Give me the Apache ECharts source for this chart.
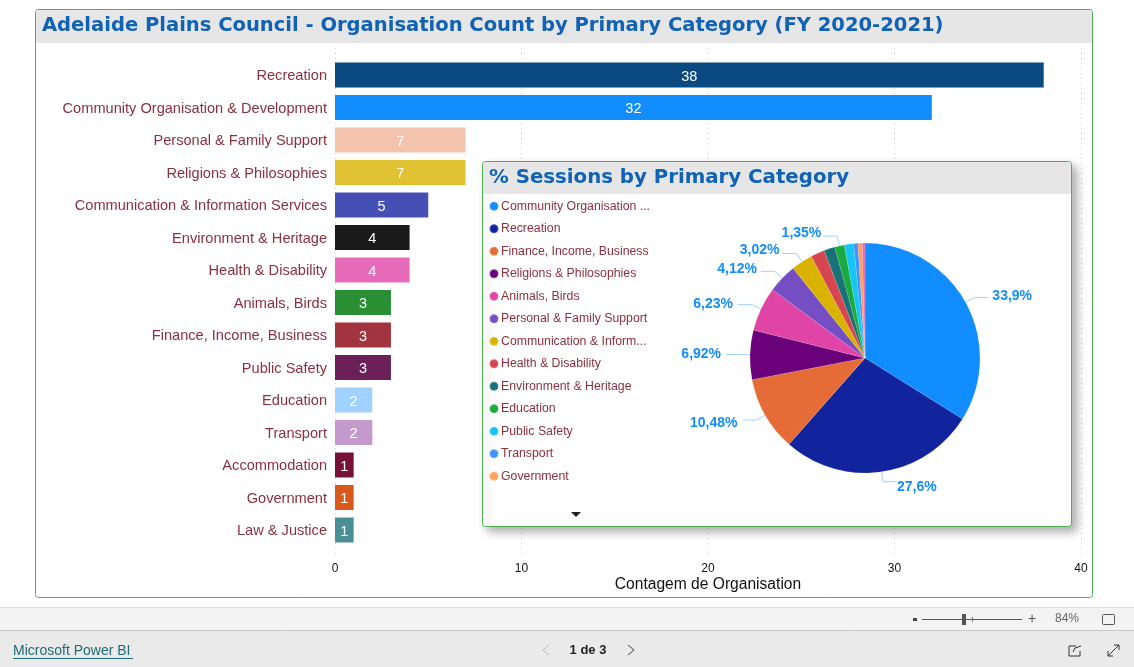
<!DOCTYPE html>
<html><head><meta charset="utf-8">
<style>html,body{margin:0;padding:0;background:#fff}#c{width:1134px;height:667px}</style>
<script src="https://cdn.jsdelivr.net/npm/echarts@6/dist/echarts.min.js"></script>
</head><body><div id="c"></div>
<script>
const mainTitle = 'Adelaide Plains Council - Organisation Count by Primary Category (FY 2020-2021)';
const pieTitle = '% Sessions by Primary Category';
const xAxisName = 'Contagem de Organisation';

const barCategories = ['Recreation','Community Organisation & Development','Personal & Family Support','Religions & Philosophies','Communication & Information Services','Environment & Heritage','Health & Disability','Animals, Birds','Finance, Income, Business','Public Safety','Education','Transport','Accommodation','Government','Law & Justice'];
const barValues = [38,32,7,7,5,4,4,3,3,3,2,2,1,1,1];
const barColors = ['#0A4A80','#118DFF','#F3C3AE','#E1C233','#4550B5','#1A1A1A','#E66CB9','#2A8F33','#A23440','#6B2158','#A0D1FF','#C49ACD','#751235','#D9591C','#4A8E96'];

const pieCategories = ['Community Organisation & Development','Recreation','Finance, Income, Business','Religions & Philosophies','Animals, Birds','Personal & Family Support','Communication & Information Services','Health & Disability','Environment & Heritage','Education','Public Safety','Transport','Government','Law & Justice'];
const pieValues = [33.9,27.6,10.48,6.92,6.23,4.12,3.02,1.95,1.55,1.35,1.3,0.6,0.6,0.38];
const pieColors = ['#118DFF','#12239E','#E66C37','#6B007B','#E044A7','#744EC2','#D9B300','#D64550','#197278','#1AAB40','#15C6F4','#4092FF','#FFA058','#E66CB9'];
const pieLabels = ['33,9%','27,6%','10,48%','6,92%','6,23%','4,12%','3,02%','','','1,35%','','','',''];
const pieLabelNudgeX = [-1,-5,0,0,0,1,2,0,0,3,0,0,0,0];
const pieLabelNudgeY = [-1,5,3,0,-1,-2,-3,0,0,-3,0,0,0,0];
const legendNames = pieCategories.slice(0,13);
const legendLabels = ['Community Organisation ...','Recreation','Finance, Income, Business','Religions & Philosophies','Animals, Birds','Personal & Family Support','Communication & Inform...','Health & Disability','Environment & Heritage','Education','Public Safety','Transport','Government'];

const LABEL = '#8C2F3F', FONT = '"Liberation Sans", Arial, sans-serif';
const chart = echarts.init(document.getElementById('c'), null, {renderer:'canvas'});

const panels = [
  {type:'rect', z:-2, shape:{x:35.5,y:9.5,width:1057,height:588,r:3}, style:{fill:'#fff',stroke:'#4CAF50',lineWidth:1}},
  {type:'rect', z:-1, shape:{x:36,y:10,width:1056,height:33,r:[3,3,0,0]}, style:{fill:'#E6E6E6'}},
  {type:'text', z:-1, style:{x:42,y:26,text:mainTitle,font:'bold 19.55px "DejaVu Sans", sans-serif',fill:'#0F62B5',textVerticalAlign:'middle'}},
  {type:'rect', z:3, shape:{x:482.5,y:161.5,width:589,height:365,r:3}, style:{fill:'#fff',stroke:'#4CAF50',lineWidth:1,shadowBlur:10,shadowOffsetX:5,shadowOffsetY:5,shadowColor:'rgba(0,0,0,0.32)'}},
  {type:'rect', z:3, shape:{x:483,y:162,width:588,height:32,r:[3,3,0,0]}, style:{fill:'#E6E6E6'}},
  {type:'text', z:3, style:{x:489,y:178,text:pieTitle,font:'bold 19.75px "DejaVu Sans", sans-serif',fill:'#0F62B5',textVerticalAlign:'middle'}},
  {type:'polygon', z:3, shape:{points:[[571,512],[581,512],[576,517]]}, style:{fill:'#222'}},
  // footer
  {type:'rect', z:-2, shape:{x:0,y:607,width:1134,height:23}, style:{fill:'#F3F3F3'}},
  {type:'line', z:-2, shape:{x1:0,y1:607.5,x2:1134,y2:607.5}, style:{stroke:'#DDDDDD'}},
  {type:'rect', z:-2, shape:{x:0,y:630,width:1134,height:37}, style:{fill:'#EAEAEA'}},
  {type:'line', z:-2, shape:{x1:0,y1:630.5,x2:1134,y2:630.5}, style:{stroke:'#C8C8C8'}},
  {type:'line', z:-1, shape:{x1:922,y1:619.5,x2:1022,y2:619.5}, style:{stroke:'#555'}},
  {type:'rect', z:-1, shape:{x:962,y:614,width:4,height:11}, style:{fill:'#555'}},
  {type:'line', z:-1, shape:{x1:972.5,y1:617,x2:972.5,y2:622}, style:{stroke:'#777'}},
  {type:'rect', z:-1, shape:{x:913,y:618,width:4,height:3}, style:{fill:'#444'}},
  {type:'text', z:-1, style:{x:1032,y:619,text:'+',font:'14px '+FONT,fill:'#555',textAlign:'center',textVerticalAlign:'middle'}},
  {type:'text', z:-1, style:{x:1067,y:619,text:'84%',font:'12px '+FONT,fill:'#666',textAlign:'center',textVerticalAlign:'middle'}},
  {type:'rect', z:-1, shape:{x:1102.5,y:614.5,width:12,height:10,r:1}, style:{fill:'none',stroke:'#555'}},
  {type:'text', z:-1, style:{x:13,y:651,text:'Microsoft Power BI',font:'14px '+FONT,fill:'#1F6B75',textVerticalAlign:'middle'}},
  {type:'line', z:-1, shape:{x1:13,y1:658.5,x2:133,y2:658.5}, style:{stroke:'#1F6B75'}},
  {type:'text', z:-1, style:{x:588,y:650,text:'1 de 3',font:'bold 13px '+FONT,fill:'#252423',textAlign:'center',textVerticalAlign:'middle'}},
  {type:'polyline', z:-1, shape:{points:[[549,645],[543,650],[549,655]]}, style:{fill:'none',stroke:'#BBBBBB'}},
  {type:'polyline', z:-1, shape:{points:[[628,645],[634,650],[628,655]]}, style:{fill:'none',stroke:'#444'}},
  {type:'polyline', z:-1, shape:{points:[[1076,646],[1069,646],[1069,656],[1080,656],[1080,651]]}, style:{fill:'none',stroke:'#333'}},
  {type:'polyline', z:-1, shape:{points:[[1073,652],[1075,648],[1081,646]]}, style:{fill:'none',stroke:'#333'}},
  {type:'line', z:-1, shape:{x1:1108,y1:656,x2:1119,y2:645}, style:{stroke:'#333'}},
  {type:'polyline', z:-1, shape:{points:[[1114,645],[1119,645],[1119,650]]}, style:{fill:'none',stroke:'#333'}},
  {type:'polyline', z:-1, shape:{points:[[1108,651],[1108,656],[1113,656]]}, style:{fill:'none',stroke:'#333'}}
];

chart.setOption({
  animation:false,
  graphic:{elements:panels},
  grid:[
    {left:335,width:746,top:48,height:509},
    {left:335,width:746,top:58.75,height:487.5}
  ],
  xAxis:[
    {gridIndex:0,type:'value',min:0,max:40,interval:10,
     name:xAxisName,nameLocation:'middle',nameGap:20,nameMoveOverlap:false,nameTextStyle:{color:'#111',fontSize:15.6,fontFamily:FONT},
     axisLine:{show:false},axisTick:{show:false},
     axisLabel:{color:'#111',fontSize:12,fontFamily:FONT,margin:6},
     splitLine:{show:true,lineStyle:{color:'#D0D0D0',type:[1,4],width:1}}},
    {gridIndex:1,type:'value',min:0,max:40,interval:10,show:false}
  ],
  yAxis:[
    {gridIndex:0,type:'value',min:0,max:1,show:false},
    {gridIndex:1,type:'category',inverse:true,data:barCategories,
     axisLine:{show:false},axisTick:{show:false},
     axisLabel:{color:LABEL,fontSize:14.6,fontFamily:FONT,margin:8,verticalAlign:'top',lineHeight:2}}
  ],
  legend:{
    orient:'vertical',left:483.5,top:194,z:5,
    data:legendNames,icon:'circle',itemWidth:9,itemHeight:9,itemGap:8,
    selectedMode:false,
    formatter:(name)=>legendLabels[legendNames.indexOf(name)],
    textStyle:{color:LABEL,fontSize:12.3,fontFamily:FONT,padding:[0,0,0,-2.5],lineHeight:14.5}
  },
  series:[
    {type:'bar',xAxisIndex:1,yAxisIndex:1,barWidth:25,
     data:barValues.map((v,i)=>({value:v,itemStyle:{color:barColors[i]}})),
     label:{show:true,position:'inside',color:'#fff',fontSize:14.5,fontFamily:FONT,offset:[0,1.5]}},
    {type:'pie',z:4,center:[865,358],radius:[0,115],startAngle:90,clockwise:true,
     data:pieValues.map((v,i)=>({
       name:pieCategories[i],value:v,
       itemStyle:{color:pieColors[i]},
       label:{show:!!pieLabels[i],formatter:pieLabels[i]},
       labelLine:{show:!!pieLabels[i]}
     })),
     itemStyle:{borderColor:'rgba(255,255,255,0.25)',borderWidth:0.5},
     label:{position:'outside',color:'#118DFF',fontWeight:'bold',fontSize:14,fontFamily:FONT},
     labelLine:{length:10,length2:14,lineStyle:{color:'#A0D1FF',width:1}},
     labelLayout:(p)=>({dx:pieLabelNudgeX[p.dataIndex],dy:pieLabelNudgeY[p.dataIndex]}),
     emphasis:{disabled:true}}
  ]
});
</script></body></html>
